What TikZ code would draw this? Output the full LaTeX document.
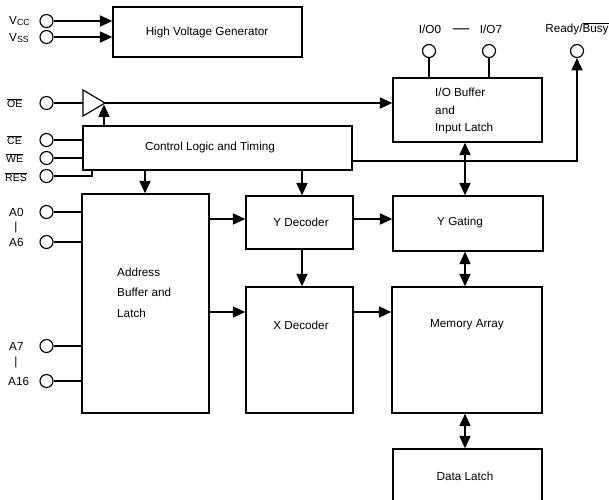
\documentclass[tikz,border=0pt]{standalone}
\usepackage{fontspec}
\setmainfont{Liberation Sans}
\usetikzlibrary{arrows.meta,fit,calc}
\newcommand\ovl[1]{\ensuremath{\overline{\mbox{#1}}}}
\begin{document}
\begin{tikzpicture}[x=0.03cm,y=-0.03cm,
 box/.style={draw,line width=1.3pt,inner sep=0pt},
 pinc/.style={draw,circle,line width=1pt,minimum size=0.39cm,inner sep=0pt,fill=white},
 wire/.style={line width=1pt},
 arr/.style={wire,-{Triangle[length=10.5pt,width=9.5pt]}},
 darr/.style={wire,{Triangle[length=10.5pt,width=9.5pt]}-{Triangle[length=10.5pt,width=9.5pt]}},
 lbl/.style={font=\fontsize{10}{12}\selectfont,inner sep=0pt},
 plbl/.style={font=\fontsize{9}{11}\selectfont,inner sep=0pt,anchor=west},
 txt/.style={lbl,align=left,anchor=west},
 ]
\useasboundingbox (0,0) rectangle (609,500);
\clip (0,0) rectangle (609,500);

% boxes
\node[box,fit={(113,7)(302,57)}] (hvg) {};
\node[box,fit={(393,78)(542,142)}] (iob) {};
\node[box,fit={(83,126)(352,170)}] (ctrl) {};
\node[box,fit={(82,194)(209,413)}] (addr) {};
\node[box,fit={(246,196)(353,249)}] (ydec) {};
\node[box,fit={(393,196)(543,251)}] (ygat) {};
\node[box,fit={(246,287)(353,413)}] (xdec) {};
\node[box,fit={(392,287)(542,413)}] (mem) {};
\node[box,fit={(393,449)(542,530)}] (dlat) {};

% box texts
\node[lbl] (thvg) at (207,32) {High Voltage Generator};
\node[txt] (tiob1) at (435,92) {I/O Buffer};
\node[txt] (tiob2) at (435,110) {and};
\node[txt] (tiob3) at (435,128) {Input Latch};
\node[lbl] (tctrl) at (210,147) {Control Logic and Timing};
\node[txt] (taddr1) at (117,272) {Address};
\node[txt] (taddr2) at (117,292) {Buffer and};
\node[txt] (taddr3) at (117,313) {Latch};
\node[lbl] (tydec) at (301,222) {Y Decoder};
\node[lbl] (tygat) at (460,222) {Y Gating};
\node[lbl] (txdec) at (301,325) {X Decoder};
\node[lbl] (tmem) at (467,325) {Memory Array};
\node[lbl] (tdlat) at (465,476) {Data Latch};

% pins
\node[pinc] (vcc) at (46.5,21) {};
\node[pinc] (vss) at (46.5,37) {};
\node[pinc] (oe) at (46.5,103) {};
\node[pinc] (ce) at (46.5,140) {};
\node[pinc] (we) at (46.5,158) {};
\node[pinc] (res) at (46.5,176) {};
\node[pinc] (a0) at (46.5,212) {};
\node[pinc] (a6) at (46.5,242) {};
\node[pinc] (a7) at (46.5,346) {};
\node[pinc] (a16) at (46.5,381) {};
\node[pinc] (io0) at (429,51) {};
\node[pinc] (io7) at (489,51) {};
\node[pinc] (rdy) at (577,51) {};

% pin labels
\node[plbl,font=\fontsize{10}{12}\selectfont] (lvcc) at (9,21) {V\raisebox{-0.3ex}{\fontsize{7.5}{8}\selectfont CC}};
\node[plbl,font=\fontsize{10}{12}\selectfont] (lvss) at (9,38) {V\raisebox{-0.3ex}{\fontsize{7.5}{8}\selectfont SS}};
\node[plbl] (loe) at (7,103) {\ovl{OE}};
\node[plbl] (lce) at (7,140) {\ovl{CE}};
\node[plbl] (lwe) at (6,158) {\ovl{WE}};
\node[plbl] (lres) at (5,177) {\ovl{RES}};
\node[plbl,font=\fontsize{10}{12}\selectfont] (la0) at (9,212) {A0};
\node[lbl] (lbar1) at (16,227) {|};
\node[plbl,font=\fontsize{10}{12}\selectfont] (la6) at (9,242) {A6};
\node[plbl,font=\fontsize{10}{12}\selectfont] (la7) at (9,346) {A7};
\node[lbl] (lbar2) at (16,362) {|};
\node[plbl,font=\fontsize{10}{12}\selectfont] (la16) at (8,381) {A16};
\node[lbl] (lio0) at (430,29) {I/O0};
\node[lbl,font=\fontsize{14}{16}\selectfont,anchor=base] (ldash) at (461,33) {—};
\node[lbl] (lio7) at (491,29) {I/O7};
\node[lbl] (lrdy) at (577,29) {Ready/\ovl{Busy}};

% buffer triangle
\coordinate (tri1) at (83,90);
\coordinate (tri2) at (83,116);
\coordinate (triap) at (105,103);
\coordinate (trib) at (104,104.5);
\draw[wire] (tri1) -- (triap) -- (tri2) -- cycle;

% connectors
\draw[arr] (vcc) -- (hvg.west |- vcc);
\draw[arr] (vss) -- (hvg.west |- vss);
\draw[wire] (oe) -- (tri1 |- oe);
\draw[arr] (triap) -- (iob.west |- triap);
\draw[arr] (trib |- ctrl.north) -- (trib);
\draw[wire] (ce) -- (ctrl.west |- ce);
\draw[wire] (we) -- (ctrl.west |- we);
\coordinate (resx) at (92,0);
\draw[wire] (res) -| (resx |- ctrl.south);
\draw[wire] (io0) -- (io0 |- iob.north);
\draw[wire] (io7) -- (io7 |- iob.north);
\coordinate (rdyy) at (0,161);
\draw[arr] (ctrl.east |- rdyy) -| (rdy);
\coordinate (c1) at (145,0);
\draw[arr] (c1 |- ctrl.south) -- (c1 |- addr.north);
\coordinate (c2) at (302,0);
\draw[arr] (c2 |- ctrl.south) -- (c2 |- ydec.north);
\draw[arr] (c2 |- ydec.south) -- (c2 |- xdec.north);
\draw[wire] (a0) -- (addr.west |- a0);
\draw[wire] (a6) -- (addr.west |- a6);
\draw[wire] (a7) -- (addr.west |- a7);
\draw[wire] (a16) -- (addr.west |- a16);
\coordinate (r1) at (0,219);
\coordinate (r2) at (0,312);
\draw[arr] (addr.east |- r1) -- (ydec.west |- r1);
\draw[arr] (addr.east |- r2) -- (xdec.west |- r2);
\draw[arr] (ydec.east |- r1) -- (ygat.west |- r1);
\draw[arr] (xdec.east |- r2) -- (mem.west |- r2);
\coordinate (c3) at (465,0);
\draw[darr] (c3 |- iob.south) -- (c3 |- ygat.north);
\draw[darr] (c3 |- ygat.south) -- (c3 |- mem.north);
\draw[darr] (c3 |- mem.south) -- (c3 |- dlat.north);
\end{tikzpicture}
\end{document}
